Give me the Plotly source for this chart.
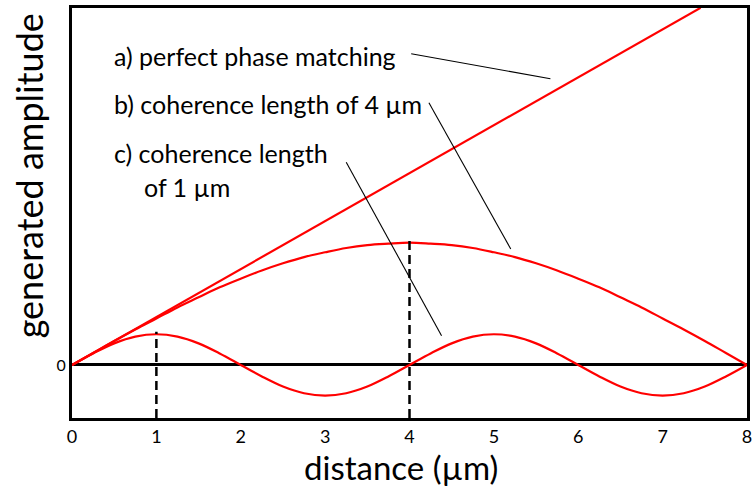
import plotly.graph_objects as go

# distance (µm)
x_vals = [0, 0.25, 0.5, 0.75, 1, 1.25, 1.5, 1.75, 2, 2.25, 2.5, 2.75, 3, 3.25, 3.5, 3.75,
          4, 4.25, 4.5, 4.75, 5, 5.25, 5.5, 5.75, 6, 6.25, 6.5, 6.75, 7, 7.25, 7.5, 7.75, 8]
# a) perfect phase matching (straight line)
a_x = [0, 7.45]
a_y = [0, 7.45]
# b) coherence length of 4 µm
b_y = [0, 0.25, 0.50, 0.74, 0.97, 1.20, 1.41, 1.62, 1.80, 1.97, 2.12, 2.25, 2.35, 2.44, 2.50, 2.53,
       2.55, 2.53, 2.50, 2.44, 2.35, 2.25, 2.12, 1.97, 1.80, 1.62, 1.41, 1.20, 0.97, 0.74, 0.50, 0.25, 0]
# c) coherence length of 1 µm
c_y = [0, 0.24, 0.45, 0.59, 0.64, 0.59, 0.45, 0.24, 0, -0.24, -0.45, -0.59, -0.64, -0.59, -0.45, -0.24,
       0, 0.24, 0.45, 0.59, 0.64, 0.59, 0.45, 0.24, 0, -0.24, -0.45, -0.59, -0.64, -0.59, -0.45, -0.24, 0]

x_ticks = [0, 1, 2, 3, 4, 5, 6, 7, 8]
dash_x = [1, 4]
dash_top = [0.69, 2.59]

labels = ["a) perfect phase matching", "b) coherence length of 4 µm",
          "c) coherence length", "of 1 µm"]
x_title = "distance (µm)"
y_title = "generated amplitude"

y_min, y_max = -1.107, 7.446
FONT = "Lato"

fig = go.Figure()
for xs, ys in [(a_x, a_y), (x_vals, b_y), (x_vals, c_y)]:
    fig.add_trace(go.Scatter(x=xs, y=ys, mode="lines",
                             line=dict(color="#ff0000", width=2.2, shape="spline"),
                             hoverinfo="skip"))

shapes = []
for dx, top in zip(dash_x, dash_top):
    shapes.append(dict(type="line", x0=dx, x1=dx, y0=y_min, y1=top, xref="x", yref="y",
                       line=dict(color="black", width=2.5, dash="9px,5px"), layer="above"))
# leader lines (data coordinates)
leaders = [((4.02, 6.49), (5.67, 5.97)),
           ((4.23, 5.47), (5.20, 2.42)),
           ((3.25, 4.23), (4.38, 0.61))]
for (x0, y0), (x1, y1) in leaders:
    shapes.append(dict(type="line", x0=x0, y0=y0, x1=x1, y1=y1, xref="x", yref="y",
                       line=dict(color="black", width=1.1), layer="above"))

annots = []
label_pos = [(0.47, 6.45), (0.47, 5.45), (0.47, 4.42), (0.83, 3.71)]
for t, (lx, ly) in zip(labels, label_pos):
    annots.append(dict(x=lx, y=ly, xref="x", yref="y", text=t, showarrow=False,
                       xanchor="left", yanchor="middle",
                       font=dict(family=FONT, size=25, color="black")))
# axis titles
annots.append(dict(x=(403 - 72) / 680, y=(418 - 467) / 410, xref="paper", yref="paper",
                   text=x_title, showarrow=False, xanchor="center", yanchor="middle",
                   font=dict(family=FONT, size=33, color="black")))
annots.append(dict(x=(29 - 72) / 680, y=(418 - 176) / 410, xref="paper", yref="paper",
                   text=y_title, showarrow=False, xanchor="center", yanchor="middle",
                   textangle=-90, font=dict(family=FONT, size=36, color="black")))

fig.update_layout(
    width=753, height=495,
    margin=dict(l=72, r=1, t=8, b=77),
    paper_bgcolor="white", plot_bgcolor="white",
    showlegend=False,
    shapes=shapes, annotations=annots,
    xaxis=dict(range=[0, 8], tickvals=x_ticks, ticktext=[str(v) for v in x_ticks],
               showgrid=False, zeroline=False, showline=True, mirror=True,
               linecolor="black", linewidth=3, ticks="", ticklabeloverflow="allow",
               tickfont=dict(family=FONT, size=18, color="black")),
    yaxis=dict(range=[y_min, y_max], tickvals=[0], ticktext=["0"],
               showgrid=False, zeroline=True, zerolinecolor="black", zerolinewidth=3,
               showline=True, mirror=True, linecolor="black", linewidth=3, ticks="",
               tickfont=dict(family=FONT, size=16, color="black")),
)

fig.write_html("out.html")
